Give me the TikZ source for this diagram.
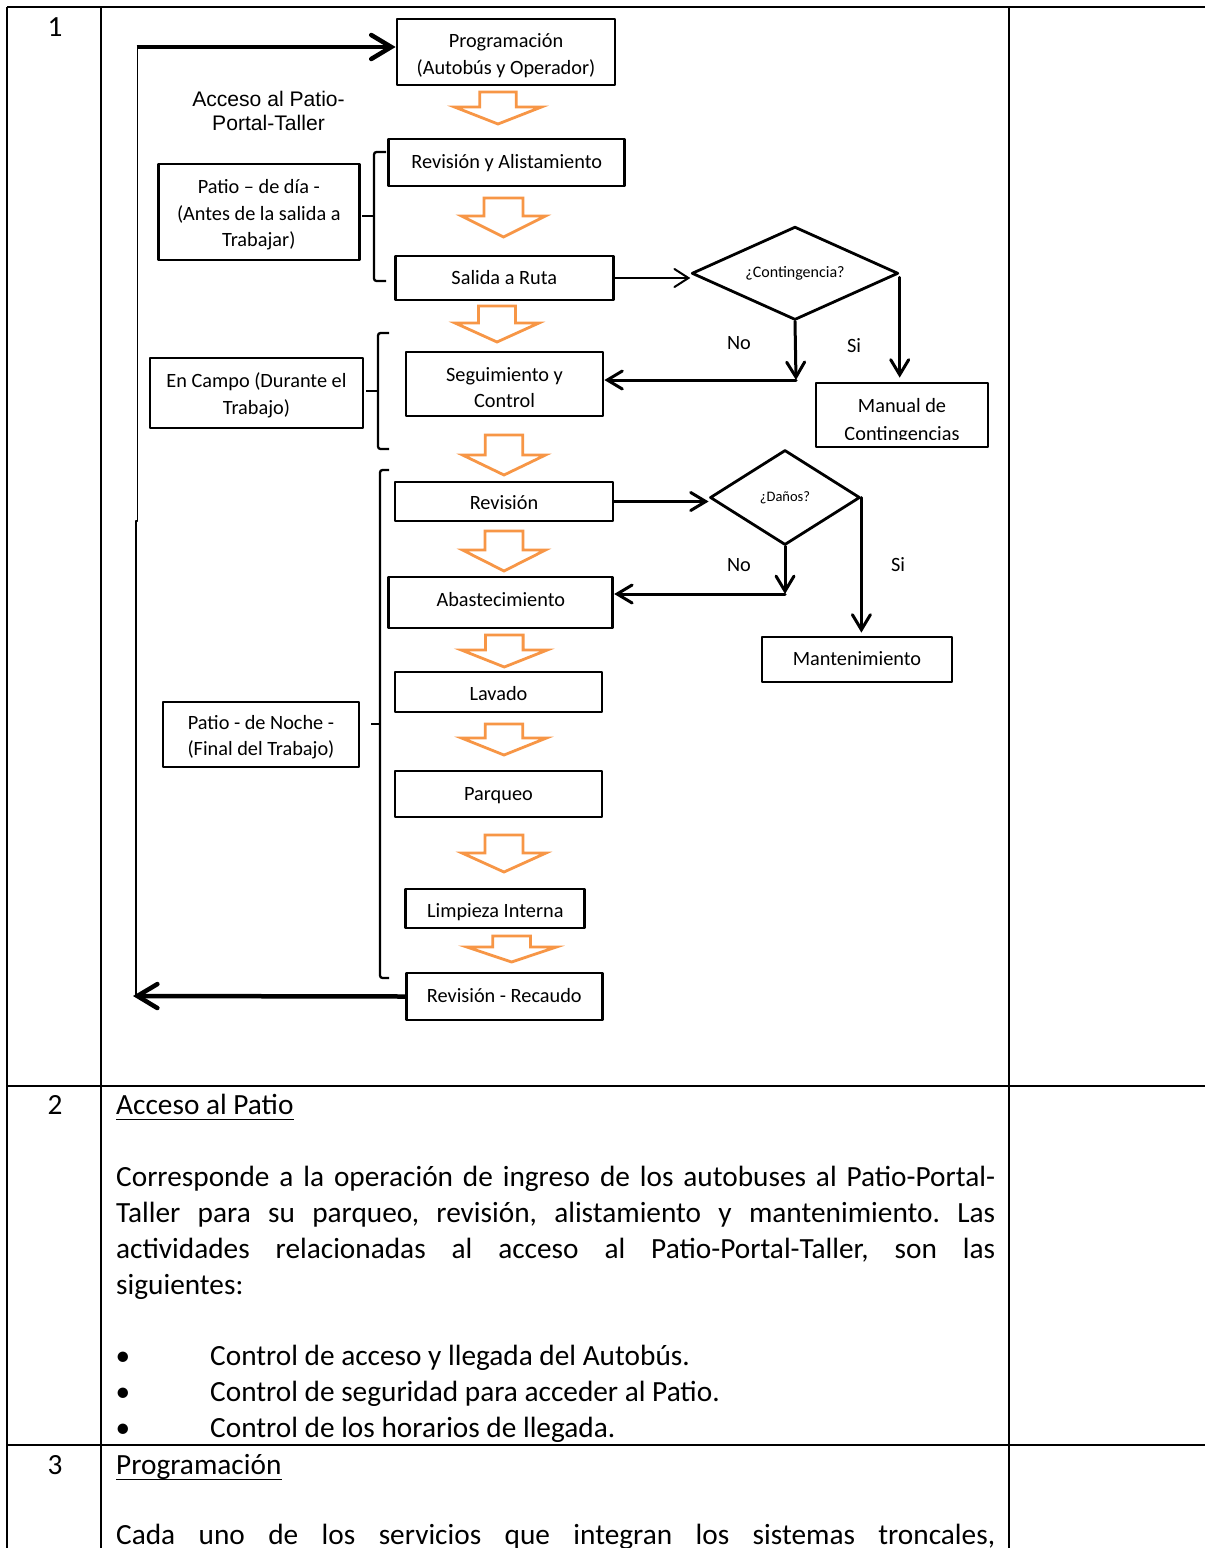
\documentclass[tikz,border=0pt]{standalone}
\usepackage{fontspec}
\setmainfont{Carlito}
\newfontfamily\arialfont{Liberation Sans}
\usetikzlibrary{arrows.meta,shapes.geometric}
\definecolor{boxorange}{RGB}{247,150,70}
\frenchspacing
% cx, top, base, tip, half head width, half shaft width
\newcommand{\blockarr}[6]{%
  \draw[oarrow] ({#1-#6},#2) -- ({#1+#6},#2) -- ({#1+#6},#3) -- ({#1+#5},#3) -- (#1,#4) -- ({#1-#5},#3) -- ({#1-#6},#3) -- cycle;}
\begin{document}
\begin{tikzpicture}[x=1pt,y=-1pt,line join=round,
  box/.style={draw,line width=2.8pt,inner sep=0pt,align=center,text height=16pt,text depth=4pt,font=\fontsize{20.3}{26.5}\selectfont},
  boxtext/.style={inner sep=0pt,align=center,font=\fontsize{20.3}{26.5}\selectfont},
  diam/.style={diamond,draw,line width=2.8pt,inner sep=0pt,aspect=2.2},
  tbl/.style={line width=2.8pt},
  oarrow/.style={draw=boxorange,line width=2.8pt,fill=white,line join=miter},
  brace/.style={line width=2.3pt,rounded corners=2.5pt},
  flow/.style={line width=3pt,line cap=round,-{Straight Barb[length=15pt,width=18pt,line cap=round]}},
  thinflow/.style={line width=2pt,-{Straight Barb[length=14pt,width=18pt,line cap=round]}},
  loopflow/.style={line width=4.5pt,-{Straight Barb[length=20pt,width=24pt,line cap=round]}},
  lbl/.style={font=\fontsize{20.3}{24}\selectfont,inner sep=0pt},
  body/.style={font=\fontsize{29.3}{35.7}\selectfont,inner sep=0pt,anchor=base west}]
\useasboundingbox (0,0) rectangle (1205,1548);
\fill[white] (0,0) rectangle (1205,1548);

% table
\draw[tbl] (7,7) -- (1205,7);
\draw[tbl] (7,7) -- (7,1548);
\draw[tbl] (101,7) -- (101,1548);
\draw[tbl] (1009,7) -- (1009,1548);
\draw[tbl] (7,1086) -- (1205,1086);
\draw[tbl] (7,1445) -- (1205,1445);

% boxes
\node[box,minimum width=218pt,minimum height=66pt] (prog) at (506,52) {};
\node[boxtext] (progt) at ([yshift=-3.5pt]prog.center) {Programación\\(Autobús y Operador)};
\node[box,minimum width=236pt,minimum height=47pt] (ra) at (506.8,162.5) {Revisión y Alistamiento};
\node[box,minimum width=218pt,minimum height=44pt] (sal) at (504.3,278) {Salida a Ruta};
\node[box,minimum width=201pt,minimum height=96pt] (pdia) at (258.8,212) {};
\node[boxtext] (pdiat) at ([yshift=-3pt]pdia.center) {Patio – de día -\\(Antes de la salida a\\Trabajar)};
\node[box,minimum width=197pt,minimum height=64pt] (seg) at (504.5,384) {};
\node[boxtext] (segt) at ([yshift=-3.5pt]seg.center) {Seguimiento y\\Control};
\node[box,minimum width=213pt,minimum height=70pt] (camp) at (256.5,393) {};
\node[boxtext] (campt) at ([yshift=-2.5pt]camp.center) {En Campo (Durante el\\Trabajo)};
\node[box,minimum width=172pt,minimum height=64pt] (man) at (902,415) {};
\begin{scope}
  \clip (816,385) rectangle (988,439);
  \node[boxtext,font=\fontsize{20.3}{28}\selectfont] (mantxt) at (902,421) {Manual de\\Contingencias};
\end{scope}
\node[box,minimum width=218pt,minimum height=39pt,text height=20pt] (rev) at (504,501.5) {Revisión};
\node[box,minimum width=224pt,minimum height=51pt,text depth=9pt] (abas) at (500.8,602.5) {Abastecimiento};
\node[box,minimum width=190pt,minimum height=45pt] (mant) at (857,659.5) {Mantenimiento};
\node[box,minimum width=207pt,minimum height=40pt,text height=20pt] (lav) at (498.5,692) {Lavado};
\node[box,minimum width=196pt,minimum height=65pt] (pnoc) at (261,734.5) {};
\node[boxtext] (pnoct) at ([yshift=-2.5pt]pnoc.center) {Patio - de Noche -\\(Final del Trabajo)};
\node[box,minimum width=207pt,minimum height=46pt] (parq) at (498.5,794) {Parqueo};
\node[box,minimum width=179pt,minimum height=39pt,text height=21pt] (limp) at (495.3,908.5) {Limpieza Interna};
\node[box,minimum width=196pt,minimum height=47pt] (rec) at (504.3,996.5) {Revisión - Recaudo};

% decisions
\node[diam,minimum width=206.6pt,minimum height=93.3pt,font=\fontsize{16}{18}\selectfont] (cont) at (795,273.3) {¿Contingencia?};
\node[diam,minimum width=150pt,minimum height=95pt,font=\fontsize{14.5}{17}\selectfont] (dan) at (785,497.5) {¿Daños?};

% label
\node[align=center,inner sep=0pt,font=\arialfont\fontsize{21.1}{24.3}\selectfont] (acc) at (268.5,111) {Acceso al Patio-\\Portal-Taller};

% block arrows
\blockarr{498}{92}{107}{124}{43.5}{18.2}
\blockarr{503.5}{198}{216}{237}{42}{19.5}
\blockarr{497}{306}{323}{342}{42}{18.5}
\blockarr{504}{435}{455}{475}{41.5}{18.7}
\blockarr{504}{531}{550}{571}{41.5}{19}
\blockarr{504.3}{635}{650}{667}{43}{18.8}
\blockarr{504}{724}{738}{755}{42.5}{18.8}
\blockarr{504}{835}{853}{872}{42}{19}
\blockarr{511.6}{936}{947}{962}{44.8}{18.8}

% braces
\draw[brace] (386,152) -- (374,152) -- (374,281) -- (386,281);
\coordinate (b1m) at (374,216);
\draw[brace] (b1m) -- ++(-12,0);
\draw[brace] (389,333) -- (378,333) -- (378,449) -- (389,449);
\coordinate (b2m) at (378,391);
\draw[brace] (b2m) -- ++(-12,0);
\draw[brace] (389,470) -- (380,470) -- (380,978) -- (389,978);
\coordinate (b3m) at (380,724);
\draw[brace] (b3m) -- ++(-9,0);

% connectors
\draw[thinflow] (sal.east) -- (sal.east -| cont.west);
\coordinate (cn) at (796,380);
\draw[flow] (cont.south) -- (cn);
\draw[flow] (cn) -- (cn -| seg.east);
\draw[flow,shorten >=4pt] ([yshift=-4pt]cont.east) -- (cont.east |- man.north);
\draw[flow] (rev.east) -- (rev.east -| dan.west);
\coordinate (dn) at (785,594);
\draw[flow] (dan.south) -- (dn);
\draw[flow] (dn) -- (dn -| abas.east);
\draw[flow,shorten >=3pt] (dan.east) -- (dan.east |- mant.north);

\node[lbl] (no1) at (739,343) {No};
\node[lbl] (si1) at (854,346) {Si};
\node[lbl] (no2) at (739,565) {No};
\node[lbl] (si2) at (898,565) {Si};

% loop
\coordinate (lt) at (136.5,47);
\coordinate (lb) at (133,996);
\draw[line width=1.3pt] (137.7,47) -- (137.7,521) -- (136,521) -- (136,996);
\draw[loopflow] (lt) -- (lt -| prog.west);
\draw[loopflow] (rec.west) -- (lb);

% table text
\node[body,anchor=base] (n1) at (55,36.4) {1};
\node[body,anchor=base] (n2) at (55,1114.5) {2};
\node[body,anchor=base] (n3) at (55,1474.5) {3};

\node[body] (h2) at (116,1114.5) {Acceso al Patio};
\draw[line width=1.4pt] ([yshift=-5pt]h2.base west) -- ([yshift=-5pt]h2.base east);
\node[body] (p1) at (116,1186.5) {\makebox[879pt][s]{Corresponde a la operación de ingreso de los autobuses al Patio-Portal-}};
\node[body] (p2) at (116,1222.5) {\makebox[879pt][s]{Taller para su parqueo, revisión, alistamiento y mantenimiento. Las}};
\node[body] (p3) at (116,1258.5) {\makebox[879pt][s]{actividades relacionadas al acceso al Patio-Portal-Taller, son las}};
\node[body] (p4) at (116,1294.5) {siguientes:};
\node[body,anchor=base] (bu1) at (123,1365.5) {•};
\node[body,anchor=base] (bu2) at (123,1401.5) {•};
\node[body,anchor=base] (bu3) at (123,1437.5) {•};
\node[body] (c1) at (210,1365.5) {Control de acceso y llegada del Autobús.};
\node[body] (c2) at (210,1401.5) {Control de seguridad para acceder al Patio.};
\node[body] (c3) at (210,1437.5) {Control de los horarios de llegada.};
\node[body] (h3) at (116,1474.5) {Programación};
\draw[line width=1.4pt] ([yshift=-5pt]h3.base west) -- ([yshift=-5pt]h3.base east);
\node[body] (p5) at (116,1544) {\makebox[879pt][s]{Cada uno de los servicios que integran los sistemas troncales,}};
\end{tikzpicture}
\end{document}
